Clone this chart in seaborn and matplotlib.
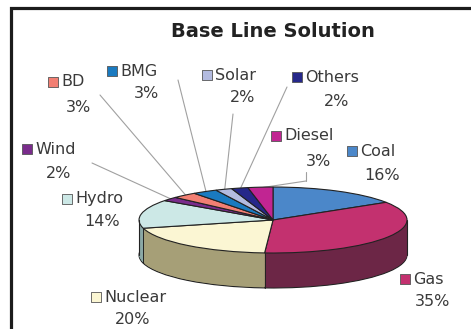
import numpy as np
import matplotlib
matplotlib.use("Agg")
import matplotlib.pyplot as plt
import seaborn as sns

sns.set_theme(style="white")
plt.rcParams['font.family'] = ['DejaVu Sans']

# data
sources = ['Coal', 'Gas', 'Nuclear', 'Hydro', 'Wind', 'BD', 'BMG', 'Solar', 'Others', 'Diesel']
shares = [16, 35, 20, 14, 2, 3, 3, 2, 2, 3]

# styles
top_colors = sns.color_palette(['#4b87c9', '#c3316f', '#fbf6d3', '#cce8e6', '#7a2c8c',
                                '#f27f73', '#1a7ac0', '#b3bbe0', '#26288a', '#c12592'])
side_colors = sns.color_palette(['#2d5a8a', '#6c2646', '#a69f77', '#8aa8a6', '#4d1a5a',
                                 '#a8554c', '#10507e', '#7880a0', '#16185a', '#7d1760'])
text_col = '#3a3a3a'

# label layout in image pixels: square x, name y, percent x, percent y
label_pos = {
    'Coal': (352, 151, 382, 175),
    'Gas': (405, 279, 433, 301),
    'Nuclear': (96, 297, 133, 320),
    'Hydro': (67, 199, 102, 222),
    'Wind': (27, 149, 59, 173),
    'BD': (53, 82, 78, 107),
    'BMG': (112, 71, 146, 94),
    'Solar': (207, 75, 243, 98),
    'Others': (297, 77, 337, 101),
    'Diesel': (276, 136, 318, 161),
}
# leader line start points (Diesel has an elbow)
leader_start = {
    'Wind': [(92, 163)],
    'BD': [(100, 95)],
    'BMG': [(178, 80)],
    'Solar': [(233, 114)],
    'Others': [(287, 87)],
    'Diesel': [(306, 172), (306, 181)],
}

fig = plt.figure(figsize=(4.71, 3.29), dpi=100)
bg = fig.add_axes([0, 0, 1, 1])
bg.set_xlim(0, 471)
bg.set_ylim(329, 0)
bg.axis('off')

# frame
bg.plot([10.5, 10.5, 480], [340, 7.5, 7.5], color='#1c1c1c', lw=2.3,
        solid_joinstyle='miter', clip_on=False)

fig.text(0.58, 0.905, 'Base Line Solution', ha='center', va='center',
         fontsize=14, fontweight='bold', color='#222222')

ax = fig.add_axes([0.2667, 0.1006, 0.6259, 0.351])
depth = 1.06
layers = np.linspace(depth, 0.02, 45)
for i, d in enumerate(layers):
    ax.pie(shares, colors=side_colors, startangle=90, counterclock=False,
           center=(0, -d), radius=1,
           wedgeprops=dict(linewidth=0.8 if i == 0 else 0,
                           edgecolor='#222222'))
ax.pie(shares, colors=top_colors, startangle=90, counterclock=False,
       center=(0, 0), radius=1,
       wedgeprops=dict(linewidth=0.8, edgecolor='#222222'))

# side seams
cum = np.cumsum(shares)
bounds = np.deg2rad(90 - 360 * np.concatenate([[0], cum]) / 100)
for b in bounds:
    if np.sin(b) < -0.02:
        ax.plot([np.cos(b), np.cos(b)], [np.sin(b), np.sin(b) - depth],
                color='#222222', lw=0.7)
ax.plot([-1, -1], [0, -depth], color='#222222', lw=0.8)
ax.plot([1, 1], [0, -depth], color='#222222', lw=0.8)

ax.set_aspect('auto')
ax.set_xlim(-1.1, 1.1)
ax.set_ylim(-2.3, 1.2)
ax.axis('off')

# labels
mids = np.deg2rad(90 - 360 * (cum - np.array(shares) / 2) / 100)
for name, share, col, th in zip(sources, shares, top_colors, mids):
    sx, ny, px, py = label_pos[name]
    bg.scatter([sx], [ny], marker='s', s=60, color=col, edgecolor='#555555',
               linewidth=0.6, zorder=5)
    bg.text(sx + 8, ny, name, ha='left', va='center', fontsize=11.5, color=text_col)
    bg.text(px, py, f'{share}%', ha='center', va='center', fontsize=11.5, color=text_col)
    if name in leader_start:
        pts = leader_start[name]
        if len(pts) > 1:
            bg.plot([p[0] for p in pts], [p[1] for p in pts], color='#a0a0a0', lw=0.8)
        bg.annotate('', xy=(0.98 * np.cos(th), 0.98 * np.sin(th)), xycoords=ax.transData,
                    xytext=pts[-1], textcoords=bg.transData,
                    arrowprops=dict(arrowstyle='-', color='#a0a0a0', lw=0.8,
                                    shrinkA=0, shrinkB=0),
                    zorder=1)

fig.savefig('out.png', dpi=100)
